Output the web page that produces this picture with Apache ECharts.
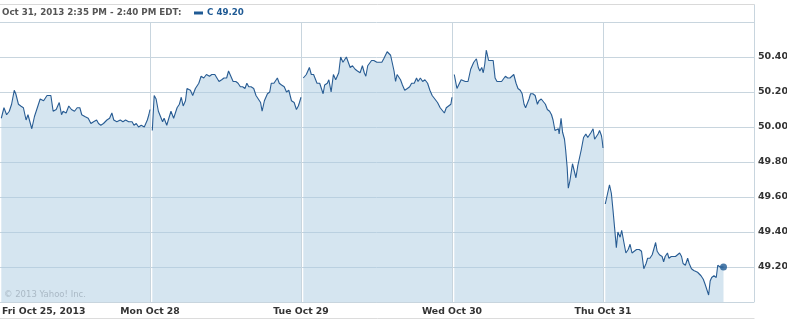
<!DOCTYPE html>
<html>
<head>
<meta charset="utf-8">
<script src="https://cdn.jsdelivr.net/npm/echarts/dist/echarts.min.js"></script>
<style>
  html, body { margin: 0; padding: 0; background: #ffffff; }
  #chart { width: 787px; height: 320px; }
</style>
</head>
<body>
<div id="chart"></div>
<script>
// ---- data: [minutes since 9:30 open, price] per trading day (5-minute bars) ----
const dayLabels = ['Fri Oct 25, 2013', 'Mon Oct 28', 'Tue Oct 29', 'Wed Oct 30', 'Thu Oct 31'];
const yTicks = [49.20, 49.40, 49.60, 49.80, 50.00, 50.20, 50.40];
const headerText = 'Oct 31, 2013 2:35 PM - 2:40 PM EDT:';
const symbolName = 'C';

const fri = [[0,50.05],[7,50.11],[14,50.07],[21,50.09],[27,50.13],[34,50.21],[38,50.19],[45,50.13],[51,50.12],[58,50.11],[65,50.04],[70,50.07],[80,49.99],[87,50.06],[93,50.10],[102,50.16],[111,50.15],[120,50.18],[124,50.17],[130,50.18],[136,50.09],[144,50.10],[152,50.14],[158,50.07],[162,50.09],[170,50.08],[177,50.12],[184,50.10],[192,50.09],[199,50.11],[206,50.11],[211,50.07],[219,50.06],[228,50.05],[235,50.02],[242,50.03],[250,50.04],[255,50.02],[261,50.01],[268,50.02],[277,50.04],[284,50.05],[290,50.08],[295,50.04],[303,50.03],[308,50.02],[312,50.04],[319,50.03],[326,50.04],[334,50.03],[343,50.03],[348,50.01],[354,50.02],[360,50.00],[367,50.01],[375,50.00],[383,50.04],[387,50.07],[390,50.10]];

const mon = [[0,49.98],[5,50.18],[10,50.16],[16,50.09],[20,50.08],[27,50.03],[31,50.05],[38,50.01],[42,50.04],[49,50.09],[56,50.05],[65,50.11],[71,50.13],[76,50.17],[81,50.12],[87,50.15],[91,50.22],[100,50.21],[106,50.18],[113,50.22],[122,50.25],[128,50.29],[135,50.28],[142,50.30],[150,50.29],[156,50.30],[164,50.30],[169,50.29],[175,50.26],[182,50.27],[188,50.28],[195,50.28],[200,50.32],[206,50.29],[212,50.26],[219,50.26],[225,50.25],[231,50.23],[237,50.23],[243,50.22],[248,50.25],[253,50.23],[259,50.23],[266,50.22],[272,50.18],[278,50.16],[284,50.14],[288,50.09],[294,50.15],[302,50.19],[308,50.20],[312,50.25],[319,50.25],[324,50.25],[328,50.28],[333,50.25],[339,50.24],[346,50.23],[352,50.20],[358,50.21],[365,50.15],[372,50.14],[378,50.10],[383,50.12],[386,50.14],[390,50.17]];

const tue = [[0,50.28],[8,50.30],[11,50.31],[16,50.34],[21,50.30],[27,50.30],[32,50.29],[36,50.25],[43,50.25],[52,50.19],[56,50.24],[63,50.25],[67,50.27],[73,50.20],[79,50.30],[85,50.27],[89,50.29],[93,50.31],[98,50.40],[104,50.37],[109,50.38],[113,50.40],[118,50.37],[123,50.34],[129,50.35],[136,50.33],[142,50.32],[149,50.31],[155,50.35],[160,50.31],[164,50.29],[169,50.35],[173,50.36],[179,50.38],[185,50.38],[189,50.37],[193,50.37],[199,50.37],[206,50.37],[211,50.39],[215,50.40],[220,50.43],[224,50.43],[229,50.41],[233,50.37],[238,50.32],[242,50.26],[246,50.30],[251,50.30],[255,50.27],[260,50.24],[266,50.21],[273,50.22],[279,50.23],[284,50.25],[291,50.25],[297,50.28],[301,50.26],[307,50.28],[313,50.26],[319,50.27],[326,50.25],[332,50.21],[338,50.18],[345,50.16],[352,50.14],[359,50.11],[363,50.12],[370,50.08],[375,50.11],[381,50.12],[387,50.13],[390,50.17]];

const wed = [[0,50.30],[7,50.22],[12,50.21],[18,50.27],[23,50.28],[29,50.26],[36,50.26],[43,50.33],[47,50.33],[51,50.37],[58,50.39],[63,50.34],[67,50.32],[72,50.34],[76,50.31],[80,50.36],[84,50.44],[90,50.38],[96,50.38],[102,50.38],[107,50.28],[112,50.26],[118,50.26],[124,50.26],[129,50.27],[134,50.29],[140,50.28],[146,50.28],[151,50.28],[156,50.30],[162,50.25],[167,50.22],[173,50.21],[178,50.19],[183,50.13],[187,50.11],[191,50.11],[196,50.16],[200,50.19],[206,50.19],[212,50.18],[218,50.13],[222,50.15],[228,50.16],[233,50.16],[239,50.13],[244,50.10],[250,50.09],[255,50.07],[259,50.04],[264,49.98],[268,49.97],[273,49.99],[275,49.96],[280,50.05],[284,49.97],[289,49.93],[292,49.87],[296,49.77],[299,49.65],[303,49.69],[310,49.79],[314,49.78],[319,49.71],[324,49.78],[328,49.77],[333,49.87],[339,49.94],[345,49.96],[350,49.94],[355,49.95],[359,49.97],[364,49.99],[368,49.93],[372,49.93],[377,49.96],[381,49.98],[386,49.95],[388,49.92],[390,49.88]];

const thu = [[0,49.56],[4,49.56],[11,49.67],[16,49.62],[20,49.53],[25,49.41],[29,49.31],[33,49.40],[39,49.37],[43,49.41],[48,49.35],[54,49.28],[60,49.30],[65,49.33],[70,49.28],[76,49.29],[82,49.30],[89,49.30],[95,49.29],[101,49.19],[107,49.22],[111,49.25],[117,49.25],[123,49.27],[127,49.30],[132,49.34],[136,49.29],[142,49.27],[149,49.26],[153,49.23],[157,49.26],[163,49.28],[167,49.25],[173,49.26],[178,49.25],[184,49.26],[189,49.25],[195,49.28],[200,49.26],[204,49.22],[210,49.21],[216,49.25],[220,49.22],[226,49.19],[232,49.18],[237,49.18],[242,49.17],[247,49.18],[251,49.15],[257,49.13],[262,49.10],[266,49.11],[271,49.04],[275,49.12],[279,49.14],[285,49.15],[291,49.14],[295,49.21],[301,49.20],[310,49.20]];

const days = [fri, mon, tue, wed, thu];

// ---- layout / style ----
const SLOT = 396;      // axis units per trading day (390 minutes + gap)
const OPEN_GAP = 6;    // gap before each day's open
const LINE = '#285c93';
const FILL = 'rgba(172,203,226,0.5)';
const GRID = '#c8d5de';
const FONT = 'DejaVu Sans';

const series = days.map((arr, d) => ({
  type: 'line',
  data: arr.map(p => [d * SLOT + OPEN_GAP + p[0], p[1]]),
  symbol: 'none',
  silent: true,
  lineStyle: { color: LINE, width: 1.1 },
  areaStyle: { color: FILL, opacity: 1, origin: 'start' },
  z: 2
}));
const last = thu[thu.length - 1];
series.push({
  type: 'scatter',
  data: [[(days.length - 1) * SLOT + OPEN_GAP + last[0], last[1]]],
  symbol: 'circle',
  symbolSize: 7,
  itemStyle: { color: '#1f5a94' },
  silent: true,
  z: 5
});

const chart = echarts.init(document.getElementById('chart'), null, { renderer: 'canvas' });
chart.setOption({
  animation: false,
  backgroundColor: '#ffffff',
  grid: { left: -1, right: 33, top: 22, bottom: 18, containLabel: false, outerBoundsMode: 'none' },
  xAxis: {
    type: 'value',
    min: 0,
    max: SLOT * days.length,
    interval: SLOT,
    axisLine: { show: true, lineStyle: { color: GRID, width: 1 } },
    axisTick: { show: false },
    splitLine: { show: true, lineStyle: { color: GRID, width: 1 } },
    axisLabel: {
      margin: 5,
      showMaxLabel: false,
      alignMinLabel: 'left',
      color: '#333',
      fontFamily: FONT,
      fontWeight: 'bold',
      fontSize: 9.3,
      formatter: v => {
        const i = Math.round(v / SLOT);
        if (i === 0) return '{first|' + dayLabels[0] + '}';
        return dayLabels[i] || '';
      },
      rich: {
        first: { padding: [0, 0, 0, 3], color: '#333', fontFamily: FONT, fontWeight: 'bold', fontSize: 9.3 }
      }
    }
  },
  yAxis: {
    type: 'value',
    position: 'right',
    min: 49.0,
    max: 50.6,
    interval: 0.2,
    axisLine: { show: true, lineStyle: { color: GRID, width: 1 } },
    axisTick: { show: false },
    splitLine: { show: true, lineStyle: { color: GRID, width: 1 } },
    axisLabel: {
      margin: 4,
      showMinLabel: false,
      showMaxLabel: false,
      color: '#333',
      fontFamily: FONT,
      fontWeight: 'bold',
      fontSize: 9.5,
      formatter: v => {
        const t = yTicks.find(y => Math.abs(y - v) < 1e-6);
        return t === undefined ? '' : t.toFixed(2);
      }
    }
  },
  graphic: [
    { type: 'line', silent: true, shape: { x1: 0, y1: 4.5, x2: 754.5, y2: 4.5 }, style: { stroke: '#d9d9d9', lineWidth: 1 } },
    { type: 'line', silent: true, shape: { x1: 754.5, y1: 4.5, x2: 754.5, y2: 22.5 }, style: { stroke: GRID, lineWidth: 1 } },
    { type: 'line', silent: true, shape: { x1: 0, y1: 318.5, x2: 754.5, y2: 318.5 }, style: { stroke: '#dcdcdc', lineWidth: 1 } },
    { type: 'text', silent: true, left: 2, top: 8, style: { text: headerText, fill: '#555', font: 'bold 8.7px "DejaVu Sans"' } },
    { type: 'rect', silent: true, shape: { x: 194, y: 11.5, width: 9, height: 3 }, style: { fill: '#1f5a94' } },
    { type: 'text', silent: true, left: 207, top: 8, style: { text: symbolName + ' ' + last[1].toFixed(2), fill: '#1f5a94', font: 'bold 8.7px "DejaVu Sans"' } },
    { type: 'text', silent: true, left: 4, top: 290, z: 10, style: { text: '\u00a9 2013 Yahoo! Inc.', fill: '#aab9c5', font: '8.5px "DejaVu Sans"' } }
  ],
  series: series
});
</script>
</body>
</html>
